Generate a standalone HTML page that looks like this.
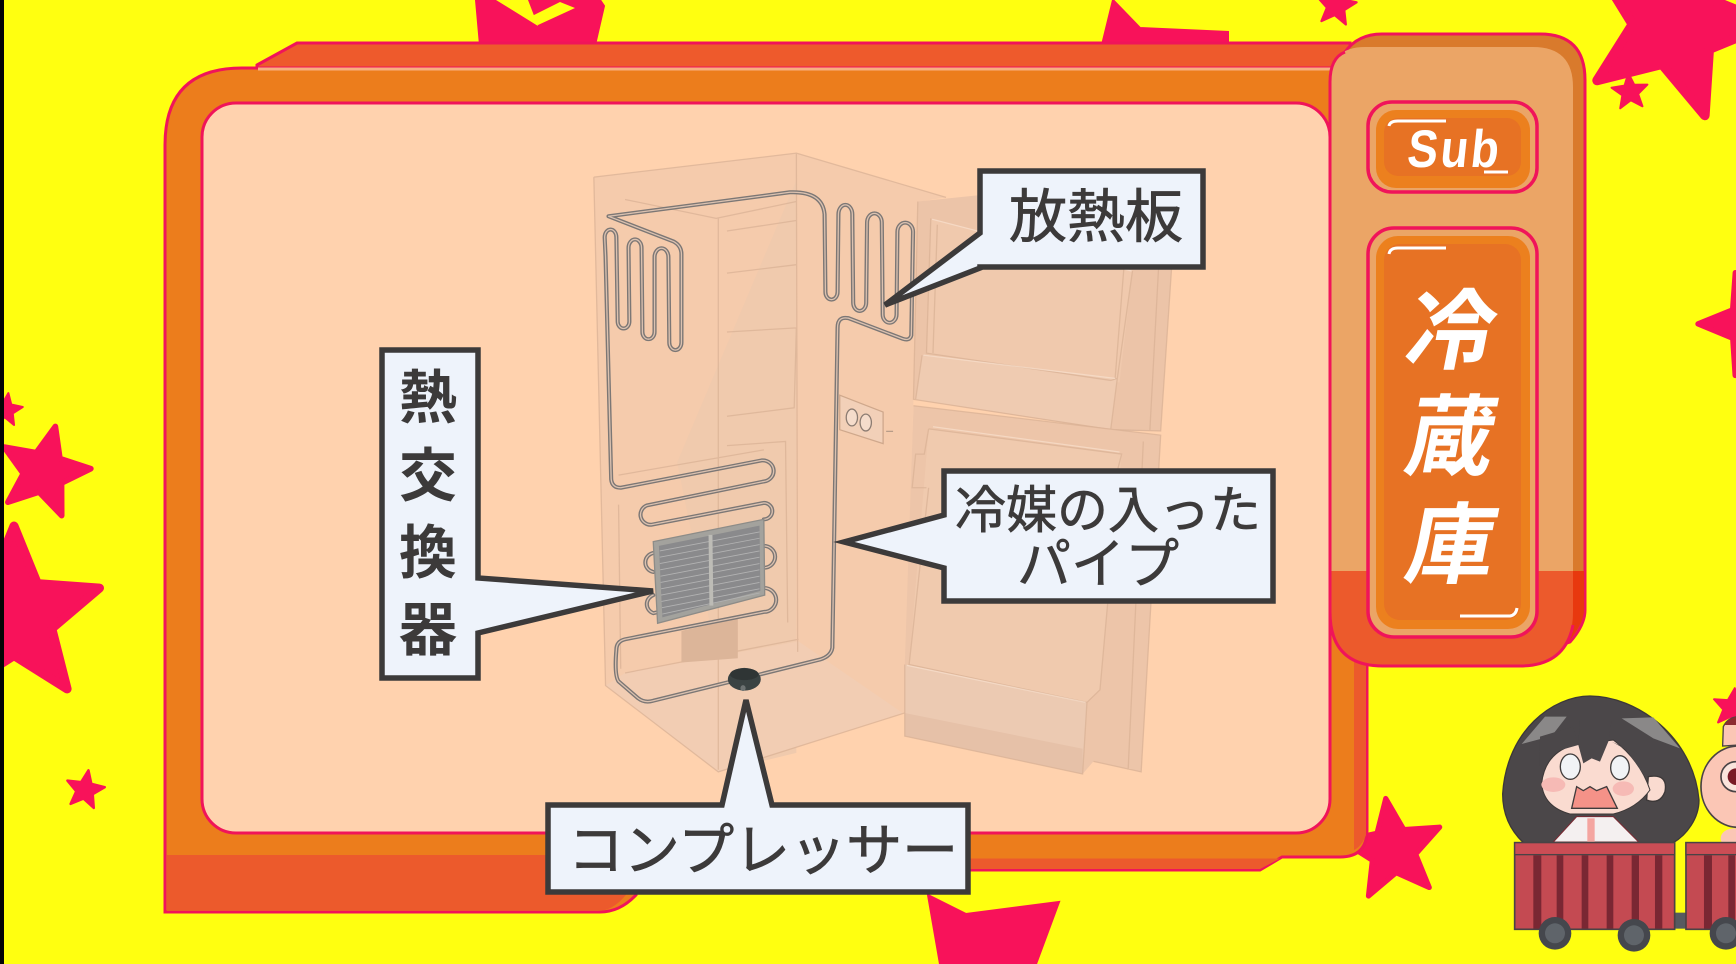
<!DOCTYPE html>
<html lang="ja">
<head>
<meta charset="utf-8">
<title>冷蔵庫</title>
<style>
html,body{margin:0;padding:0;width:1736px;height:964px;overflow:hidden;background:#ffff10}
svg{display:block}
text{font-family:"Liberation Sans","Noto Sans CJK JP",sans-serif}
.lab{fill:#3c3a3a;text-anchor:middle;font-family:"Noto Sans CJK JP","Liberation Sans",sans-serif}
.call{fill:#eef3fb;stroke:#3c3a3a;stroke-width:5.5;stroke-linejoin:miter}
.tt{fill:#fff;text-anchor:middle;font-family:"Noto Sans CJK JP",sans-serif;font-weight:700}
.pipeO{fill:none;stroke:#7c7775;stroke-width:9.5;stroke-linejoin:round;stroke-linecap:round}
.pipeI{fill:none;stroke:#dcc2b0;stroke-width:3;stroke-linejoin:round;stroke-linecap:round}
.ln{fill:none;stroke:#d9b196;stroke-width:3;stroke-opacity:.75}
.hl{fill:none;stroke:#f8dfcd;stroke-width:3;stroke-opacity:.7}
</style>
</head>
<body>
<svg xmlns="http://www.w3.org/2000/svg" xmlns:xlink="http://www.w3.org/1999/xlink" width="1736" height="964" viewBox="0 0 1736 964">
<defs>
<polygon id="s" points="0,-100 26,-36 95,-31 42,14 59,81 0,44 -59,81 -42,14 -95,-31 -26,-36" stroke-linejoin="round"/>
<path id="pp" d="M112,205 L530,148 Q605,145 610,200 L612,385 A14,18 0 0 0 640,385 L642,200 A16,22 0 0 1 674,200 L676,410 A15,20 0 0 0 706,410 L708,220 A17,22 0 0 1 742,220 L744,438 A16,20 0 0 0 776,438 L778,242 A18,22 0 0 1 814,242 L810,488 Q806,502 790,496 L665,447 Q640,442 640,470 L628,1230 Q625,1250 600,1258 L215,1356 Q195,1362 180,1350 L135,1310 Q125,1295 130,1235 Q130,1215 150,1210 L470,1145 A28,28 0 0 0 470,1088 L215,1148 A23,23 0 0 1 215,1105 M215,1050 A23,23 0 0 1 215,1005 M470,1040 A26,26 0 0 0 470,988 M470,925 A19,19 0 0 0 470,886 L210,938 A24,24 0 0 1 200,892 L470,835 A25,25 0 0 0 465,785 L140,850 Q120,850 118,830 L105,300 L103,255 A13,18 0 0 1 130,255 L133,455 A13,16 0 0 0 160,455 L158,280 A15,20 0 0 1 188,280 L190,480 A14,17 0 0 0 218,480 L218,302 A16,21 0 0 1 250,302 L252,505 A14,18 0 0 0 280,505 L280,295 Q280,275 262,265 L112,205"/>
</defs>
<rect width="1736" height="964" fill="#ffff10"/>

<!-- stars -->
<g fill="#f8125a" stroke="#f8125a">
<use xlink:href="#s" transform="translate(6,410) rotate(8) scale(.17)" stroke-width="12"/>
<use xlink:href="#s" transform="translate(44,472) rotate(14) scale(.47)" stroke-width="12"/>
<use xlink:href="#s" transform="translate(14,616) rotate(0) scale(.9)" stroke-width="10"/>
<use xlink:href="#s" transform="translate(85,790) rotate(10) scale(.2)" stroke-width="12"/>
<use xlink:href="#s" transform="translate(1630,92) rotate(-5) scale(.19)" stroke-width="10"/>
<use xlink:href="#s" transform="translate(1675,24) rotate(18) scale(.96)" stroke-width="10"/>
<use xlink:href="#s" transform="translate(1336,6) rotate(8) scale(.21)" stroke-width="10"/>
<use xlink:href="#s" transform="translate(1752,324) rotate(-18) scale(.54)" stroke-width="10"/>
<use xlink:href="#s" transform="translate(1393,850) rotate(-8) scale(.52)" stroke-width="10"/>
<polygon points="476,0 480,45 595,45 604,6 600,0" stroke-width="2"/>
<polygon points="1102,45 1113,0 1140,28 1228,32 1228,45" stroke-width="2"/>
<polygon points="928,895 966,914 1059,902 1036,964 940,964" stroke-width="2"/>
<use xlink:href="#s" transform="translate(1732,708) rotate(8) scale(.2)" stroke-width="10"/>
</g>
<polygon points="496,0 538,26 528,0" fill="#ffff10"/>
<polygon points="538,25 575,8 560,2 528,18" fill="#ffff10"/>
<rect x="0" y="0" width="4" height="964" fill="#050505"/>

<!-- frame -->
<path d="M257,65 L297,43 H1350 V80 H257Z" fill="#ee5a2c" stroke="#f0145a" stroke-width="3"/>
<path d="M165,912 V145 Q165,68 242,68 H1367 V830 Q1367,857 1340,857 H1282 L1260,870 H800 V855 H625 L636,895 Q620,912 600,912Z" fill="#ec7d1c" stroke="#f0145a" stroke-width="3"/>
<path d="M167,855 H660 L625,896 Q612,911 598,911 H167Z" fill="#ec5a2c"/>
<path d="M800,858.5 H1280 L1260,869 H800Z" fill="#ec5a2c"/>
<path d="M1354,600 H1366 V835 Q1362,846 1354,850Z" fill="#ec5a2c"/>
<rect x="258" y="67.5" width="1080" height="3" fill="#f7b080"/>
<rect x="202" y="103" width="1128" height="730" rx="34" ry="34" fill="#ffd2ae" stroke="#f0145a" stroke-width="3"/>

<!-- fridge -->
<g transform="translate(560,130) scale(.4337,.4209)">
<polygon points="78,112 545,55 890,160 830,170 815,640 795,1385 365,1525 105,1320" fill="#f5cbac"/>
<polygon points="545,120 545,1480 365,1525 365,1270 270,790" fill="#f0caad"/>
<polygon points="105,1320 150,1290 550,1215 790,1385 365,1525" fill="#f2cdb3"/>
<path class="ln" d="M78,112 L545,55 L890,160 M545,55 L548,1240 M78,112 L105,1320 L365,1525 L795,1385 M365,210 L365,1520 M150,165 L360,210 L545,170 M385,240 L545,215 M385,340 L545,320 M385,480 L545,470 M385,680 L540,660 L545,470 M135,820 L470,760 M385,750 L520,740 L525,1170 M150,1290 L550,1210 M135,890 L140,1280"/>

<!-- upper door -->
<polygon points="825,170 965,155 1410,330 1385,715 1280,715 815,640" fill="#ecc4a8"/>
<polygon points="855,210 1320,335 1290,600 845,530" fill="#f0c9ad"/>
<polygon points="835,535 1285,590 1270,710 820,640" fill="#efcbb1"/>
<path class="ln" d="M825,170 L815,640 L1270,712 L1385,715 L1410,330 M855,210 L845,530 L1270,595 L1285,590 L1320,335 M870,225 L860,530 M1300,330 L1280,590 M835,535 L820,640 M1285,590 L1270,710 M1380,330 L1360,715"/>
<path class="hl" d="M838,535 L1280,590 M858,212 L1318,335"/>
<!-- lower door -->
<polygon points="815,655 1385,725 1340,1525 1230,1500 1205,1530 795,1440 795,1270" fill="#edc5a9"/>
<polygon points="850,710 1295,770 1245,1330 1215,1360 805,1270" fill="#f0caae"/>
<polygon points="795,1270 1215,1360 1205,1530 795,1440" fill="#eccab2"/>
<polygon points="795,1385 1205,1470 1205,1530 795,1440" fill="#e6c1a8"/>
<path class="ln" d="M815,655 L1385,725 L1340,1525 L1230,1500 M850,710 L840,770 L820,770 L812,850 L845,850 M850,710 L1295,770 L1285,810 M850,850 L805,1270 L1215,1360 L1245,1330 L1290,810 M795,1270 L795,1440 L1205,1530 L1215,1360 M1345,740 L1310,1520"/>
<path class="hl" d="M860,705 L1290,765 M800,1272 L1212,1360"/>

<!-- thermostat -->
<polygon points="645,630 745,670 745,745 645,712" fill="#f2d0b8" stroke="#cfa88c" stroke-width="3"/>
<ellipse cx="673" cy="683" rx="13" ry="20" fill="#f5dccb" stroke="#8c7c72" stroke-width="3"/>
<ellipse cx="705" cy="695" rx="13" ry="20" fill="#f5dccb" stroke="#8c7c72" stroke-width="3"/>
<path d="M752,716 H768" stroke="#b79c88" stroke-width="3"/>

<!-- stand -->
<polygon points="280,1190 410,1160 410,1255 280,1265" fill="#dcb599"/>

<!-- pipes -->
<use xlink:href="#pp" class="pipeO"/>
<use xlink:href="#pp" class="pipeI"/>

<!-- grille -->
<polygon points="215,978 470,925 472,1105 225,1172" fill="#a3a29d" stroke="#8d8c88" stroke-width="3"/>
<polygon points="228,988 460,940 462,1095 236,1158" fill="#8a8a8c"/>
<g stroke="#b2b2b2" stroke-width="2">
<path d="M230,1000 L460,955 M230,1015 L460,970 M230,1030 L460,985 M231,1045 L460,1000 M232,1060 L460,1015 M232,1075 L460,1030 M233,1090 L460,1045 M233,1105 L460,1060 M234,1120 L460,1075 M235,1135 L460,1090 M236,1150 L460,1100"/>
</g>
<path d="M347,962 L349,1130" stroke="#bdbcb6" stroke-width="9"/>

<!-- compressor -->
<ellipse cx="425" cy="1305" rx="38" ry="27" fill="#3b4343"/>
<ellipse cx="425" cy="1293" rx="33" ry="14" fill="#2f3535"/>
<ellipse cx="422" cy="1326" rx="6" ry="7" fill="#6d7272"/>
</g>

<!-- callouts -->
<polygon class="call" points="980,171 1203,171 1203,267 980,267 980,268 885,305 980,233"/>
<text class="lab" x="1096" y="237" font-size="58" stroke="#3c3a3a" stroke-width=".8">放熱板</text>

<polygon class="call" points="382,350 478,350 478,578 653,591 478,633 478,678 382,678"/>
<g class="lab" font-size="58" font-weight="700">
<text class="lab" x="428" y="418">熱</text>
<text class="lab" x="428" y="496">交</text>
<text class="lab" x="428" y="573">換</text>
<text class="lab" x="428" y="650">器</text>
</g>

<polygon class="call" points="944,471 1273,471 1273,601 944,601 944,568 844,542 944,515"/>
<text class="lab" x="1108" y="528" font-size="51" stroke="#3c3a3a" stroke-width=".7">冷媒の入った</text>
<text class="lab" x="1098" y="583" font-size="54" stroke="#3c3a3a" stroke-width=".7">パイプ</text>

<polygon class="call" points="548,805 722,805 746,700 772,805 968,805 968,892 548,892"/>
<text class="lab" x="763" y="870" font-size="56" stroke="#3c3a3a" stroke-width=".8">コンプレッサー</text>

<!-- side tab -->
<path d="M1345,52 Q1358,34 1382,34 H1540 Q1585,34 1585,80 V610 Q1585,625 1570,642 L1500,666 H1400Z" fill="#d97a2c" stroke="#f0145a" stroke-width="3"/>
<path d="M1550,571 H1584 V610 Q1584,622 1570,640 L1550,650Z" fill="#e8380e"/>
<path d="M1330,82 Q1330,47 1365,47 H1533 Q1573,47 1573,87 V571 H1330Z" fill="#eba566"/>
<path d="M1330,571 H1573 V612 Q1573,666 1520,666 H1383 Q1330,666 1330,612Z" fill="#ec5a2c"/>
<path d="M1330,612 V82 Q1330,58 1345,52 M1330,612 Q1330,666 1383,666 H1520 Q1565,666 1573,625" fill="none" stroke="#f0145a" stroke-width="3"/>

<rect x="1368" y="102" width="169" height="90" rx="24" fill="#eba566" stroke="#f0145a" stroke-width="3.5"/>
<rect x="1376" y="110" width="154" height="78" rx="20" fill="#ec801e"/>
<rect x="1384" y="118" width="137" height="58" rx="14" fill="#e77224"/>
<path d="M1389,126 Q1390,121 1398,121 H1446" fill="none" stroke="#fff" stroke-width="3"/>
<path d="M1484,172 H1508" fill="none" stroke="#fff" stroke-width="3"/>
<text transform="translate(1406,167) skewX(-6) scale(.86,1)" fill="#fff" font-size="53" font-weight="700" letter-spacing="3" style="font-family:'Liberation Sans',sans-serif">Sub</text>

<rect x="1368" y="228" width="169" height="409" rx="26" fill="#eba566" stroke="#f0145a" stroke-width="3.5"/>
<rect x="1376" y="236" width="154" height="393" rx="22" fill="#ec801e"/>
<rect x="1384" y="244" width="137" height="376" rx="16" fill="#e77224"/>
<path d="M1389,254 Q1390,248 1398,248 H1446" fill="none" stroke="#fff" stroke-width="3"/>
<path d="M1460,616 H1510 Q1516,615 1517,608" fill="none" stroke="#fff" stroke-width="3"/>
<g class="tt" font-size="88">
<text class="tt" transform="translate(1446,362) skewX(-11)">冷</text>
<text class="tt" transform="translate(1446,468) skewX(-11)">蔵</text>
<text class="tt" transform="translate(1446,576) skewX(-11)">庫</text>
</g>

<!-- character -->
<g transform="translate(1480,670) scale(.3333)">
<!-- pig -->
<ellipse cx="775" cy="350" rx="112" ry="122" fill="#fbc6b5" stroke="#4a4345" stroke-width="5"/>
<path d="M728,228 L730,170 Q745,140 780,140 V225Z" fill="#fbc6b5" stroke="#4a4345" stroke-width="4"/>
<path d="M732,168 Q745,140 780,140 V165 H735Z" fill="#8c2a30"/>
<circle cx="768" cy="320" r="45" fill="#fbe4dc" stroke="#4a4345" stroke-width="5"/>
<circle cx="768" cy="320" r="25" fill="#7a1a26"/>
<ellipse cx="762" cy="505" rx="40" ry="30" fill="#fbc6b5"/>
<!-- hair -->
<path d="M68,372 C80,180 220,78 330,78 C470,78 640,200 657,390 C657,445 620,495 580,518 L130,518 C90,480 68,430 68,372Z" fill="#4b4749" stroke="#3c3838" stroke-width="4"/>
<polygon points="125,222 195,140 260,140 215,198" fill="#8a8888"/>
<polygon points="425,145 520,142 600,235 520,205" fill="#8a8888"/>
<path d="M505,320 Q565,310 555,365 Q540,405 500,390Z" fill="#fadbd0" stroke="#3c3838" stroke-width="4"/>
<!-- face -->
<path d="M185,340 Q195,250 280,225 L400,210 Q480,270 510,360 Q470,415 400,432 H270 Q190,410 185,340Z" fill="#fadbd0" stroke="#3c3838" stroke-width="3"/>
<polygon points="300,150 395,150 385,215 360,275 335,265 310,280 295,225" fill="#4b4749"/>
<polygon points="395,215 470,250 495,320 440,240" fill="#4b4749"/>
<polygon points="180,200 280,170 295,225 225,245 180,290" fill="#4b4749"/>
<ellipse cx="271" cy="290" rx="30" ry="38" fill="#f1f3f6" stroke="#403c3c" stroke-width="4"/>
<ellipse cx="420" cy="293" rx="28" ry="36" fill="#f1f3f6" stroke="#403c3c" stroke-width="4"/>
<ellipse cx="220" cy="344" rx="36" ry="22" fill="#f6bab5"/>
<ellipse cx="430" cy="356" rx="32" ry="22" fill="#f6bab5"/>
<path d="M290,350 L310,362 L330,350 L350,362 L380,350 L412,415 H275Z" fill="#f59288" stroke="#403c3c" stroke-width="4"/>
<!-- collar -->
<polygon points="220,516 290,440 400,440 476,516" fill="#f4f0f0" stroke="#7a2a33" stroke-width="3"/>
<rect x="322" y="445" width="22" height="72" fill="#f4a5a0"/>
<!-- cart -->
<rect x="585" y="728" width="38" height="48" fill="#565a60"/>
<rect x="104" y="518" width="480" height="260" fill="#c44a52" stroke="#4a4345" stroke-width="5"/>
<rect x="104" y="518" width="480" height="36" fill="#cb4d55" stroke="#4a4345" stroke-width="4"/>
<g fill="#7a2733">
<rect x="160" y="556" width="24" height="220"/><rect x="230" y="556" width="20" height="220"/><rect x="305" y="556" width="20" height="220"/><rect x="380" y="556" width="20" height="220"/><rect x="455" y="556" width="22" height="220"/><rect x="525" y="556" width="22" height="220"/>
</g>
<rect x="618" y="518" width="160" height="260" fill="#c44a52" stroke="#4a4345" stroke-width="5"/>
<rect x="618" y="518" width="160" height="36" fill="#cb4d55" stroke="#4a4345" stroke-width="4"/>
<g fill="#7a2733"><rect x="672" y="556" width="24" height="220"/><rect x="745" y="556" width="20" height="220"/></g>
<g fill="#45474d"><circle cx="225" cy="790" r="49"/><circle cx="462" cy="796" r="49"/><circle cx="738" cy="790" r="49"/></g>
<g fill="#5f646a"><circle cx="225" cy="790" r="30"/><circle cx="462" cy="796" r="30"/><circle cx="738" cy="790" r="30"/></g>
</g>
</svg>
</body>
</html>
